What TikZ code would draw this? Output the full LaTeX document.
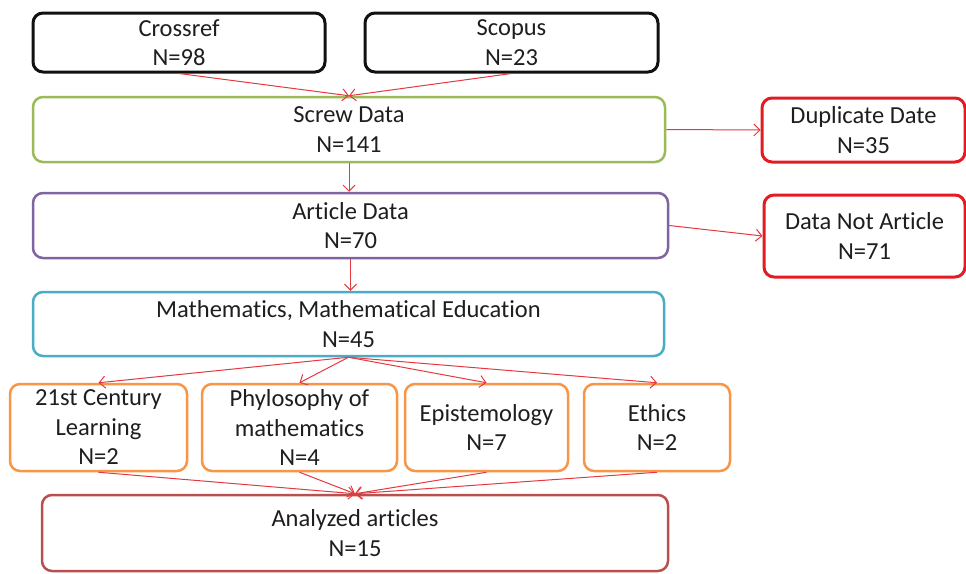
\documentclass[tikz,border=0pt]{standalone}
\usepackage{fontspec}
\setmainfont{Carlito}[Ligatures={CommonOff,ContextualOff}]
\usetikzlibrary{arrows.meta}

\definecolor{srcblack}{HTML}{111111}
\definecolor{screwgreen}{HTML}{9BBB59}
\definecolor{articlepurple}{HTML}{8064A2}
\definecolor{mathblue}{HTML}{4BACC6}
\definecolor{topicorange}{HTML}{F79646}
\definecolor{finalred}{HTML}{B9504F}
\definecolor{dropred}{HTML}{E31B23}
\definecolor{arrowred}{HTML}{E5393F}
\definecolor{textgrey}{HTML}{1E1E1E}

\begin{document}
\begin{tikzpicture}[x=1pt,y=-1pt,
  box/.style={rectangle, rounded corners=10pt, line width=2.5pt, fill=white,
    align=center, inner sep=0pt, text=textgrey,
    font=\fontsize{24.5}{29.5}\selectfont},
  flow/.style={draw=arrowred, line width=1pt,
    -{Straight Barb[length=6pt,width=12pt]}}]

\useasboundingbox (0,0) rectangle (966,573);

% sources
\node[box, draw=srcblack, line width=3pt, minimum width=292pt, minimum height=59pt]
  (crossref) at (179,42.5) {Crossref\\N=98};
\node[box, draw=srcblack, line width=3pt, minimum width=293pt, minimum height=59pt]
  (scopus) at (511.5,42.5) {Scopus\\N=23};

% main screening chain
\node[box, draw=screwgreen, minimum width=632pt, minimum height=65pt]
  (screw) at (349,129.5) {Screw Data\\N=141};
\node[box, draw=articlepurple, minimum width=635pt, minimum height=65pt]
  (article) at (350.5,225.5) {Article Data\\N=70};
\node[box, draw=mathblue, minimum width=631pt, minimum height=64pt]
  (math) at (348.5,324) {Mathematics, Mathematical Education\\N=45};

% excluded records
\node[box, draw=dropred, line width=3pt, minimum width=203pt, minimum height=64pt]
  (dup) at (863.5,130) {Duplicate Date\\N=35};
\node[box, draw=dropred, line width=3pt, minimum width=201pt, minimum height=82pt]
  (notart) at (864.5,236) {Data Not Article\\N=71};

% topic groups
\node[box, draw=topicorange, minimum width=177pt, minimum height=87pt]
  (c21) at (98.5,427.5) {21st Century\\Learning\\N=2};
\node[box, draw=topicorange, minimum width=195pt, minimum height=87pt]
  (phil) at (299.5,427.5) {Phylosophy of\\mathematics\\N=4};
\node[box, draw=topicorange, minimum width=163pt, minimum height=87pt]
  (epist) at (486.5,427.5) {Epistemology\\N=7};
\node[box, draw=topicorange, minimum width=146pt, minimum height=87pt]
  (ethics) at (657,427.5) {Ethics\\N=2};

% result
\node[box, draw=finalred, minimum width=626pt, minimum height=76pt]
  (final) at (355,533) {Analyzed articles\\N=15};

% connectors
\draw[flow] (crossref.south) -- (screw.north);
\draw[flow] (scopus.south) -- (screw.north);
\draw[flow] (screw.south) -- (screw.south |- article.north);
\draw[flow] (screw.east) -- (dup.west);
\draw[flow] (article.east) -- (notart.west);
\draw[flow] (article.south) -- (article.south |- math.north);
\foreach \t in {c21,phil,epist,ethics}
  \draw[flow] (math.south) -- (\t.north);
\foreach \t in {c21,phil,epist,ethics}
  \draw[flow] (\t.south) -- (final.north);
\end{tikzpicture}
\end{document}
